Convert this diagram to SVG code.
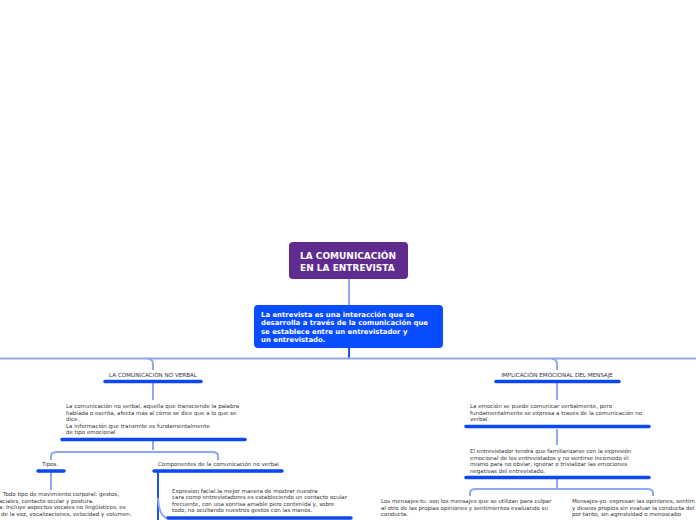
<svg xmlns="http://www.w3.org/2000/svg" width="696" height="520" viewBox="0 0 696 520">
<style>
.t{font-family:"DejaVu Sans",Verdana,sans-serif;font-size:5.5px;fill:#333}
.h{font-family:"DejaVu Sans",Verdana,sans-serif;font-size:5.6px;fill:#333;text-anchor:middle}
.w{font-family:"DejaVu Sans",Verdana,sans-serif;font-weight:bold;fill:#fff}
.c{fill:none;stroke:#8ea8f2;stroke-width:2}
.cd{fill:none;stroke:#1a52ee;stroke-width:2}
.u{stroke:#0a48f0;stroke-width:3.5;stroke-linecap:round}
</style>
<rect width="696" height="520" fill="#fff"/>
<g id="connectors">
<line class="c" x1="349" y1="279" x2="349" y2="305"/>
<line class="cd" x1="349" y1="348" x2="349" y2="358"/>
<line class="c" x1="0" y1="358.5" x2="696" y2="358.5"/>
<path class="c" d="M148,359 Q153,359 153,364 L153,370"/>
<path class="c" d="M552,359 Q557,359 557,364 L557,370"/>
<line class="c" x1="153" y1="383" x2="153" y2="400"/>
<line class="c" x1="153" y1="441" x2="153" y2="450"/>
<path class="c" d="M51,460 L51,456 Q51,452 57,452 L212,452 Q218,452 218,456 L218,460"/>
<line class="c" x1="51" y1="472" x2="51" y2="490"/>
<path class="cd" d="M158,472 L158,520"/>
<path class="c" d="M158,498 Q159,516 167,518"/>
<line class="c" x1="557" y1="383" x2="557" y2="400"/>
<line class="c" x1="557" y1="429" x2="557" y2="445"/>
<line class="c" x1="557" y1="479" x2="557" y2="489"/>
<path class="c" d="M470,496 L470,493 Q470,489 476,489 L647,489 Q653,489 653,493 L653,496"/>
</g>
<g id="root">
<rect x="289" y="242" width="119" height="37" rx="4" fill="#5f2b8f"/>
<text class="w" font-size="9" x="300" y="259">LA COMUNICACIÓN</text>
<text class="w" font-size="9" x="300" y="270.5">EN LA ENTREVISTA</text>
</g>
<g id="entrevista">
<rect x="254" y="305" width="189" height="43" rx="4" fill="#0a4cff"/>
<text class="w" font-size="6.9" x="261" y="317">La entrevista es una interacción que se</text>
<text class="w" font-size="6.9" x="261" y="325.3">desarrolla a través de la comunicación que</text>
<text class="w" font-size="6.9" x="261" y="333.6">se establece entre un entrevistador y</text>
<text class="w" font-size="6.9" x="261" y="342">un entrevistado.</text>
</g>
<g id="noverbal">
<text class="h" x="153" y="377">LA COMUNICACIÓN NO VERBAL</text>
<line class="u" x1="105" y1="381.5" x2="201" y2="381.5"/>
</g>
<g id="noverbal-def">
<text class="t" x="66" y="408">La comunicación no verbal, aquella que transciende la palabra</text>
<text class="t" x="66" y="414.5">hablada o escrita, afecta más al cómo se dice que a lo que se</text>
<text class="t" x="66" y="421">dice.</text>
<text class="t" x="66" y="427.5">La información que transmite es fundamentalmente</text>
<text class="t" x="66" y="434">de tipo emocional</text>
<line class="u" x1="62" y1="439.5" x2="245" y2="439.5"/>
</g>
<g id="tipos">
<text class="t" x="42" y="465.5">Tipos.</text>
<line class="u" x1="38" y1="471" x2="64" y2="471"/>
</g>
<g id="tipos-texto">
<text class="t" x="3" y="496">Todo tipo de movimiento corporal: gestos,</text>
<text class="t" x="-1" y="502.5">aciales, contacto ocular y postura.</text>
<text class="t" x="-1" y="509">a: Incluye aspectos vocales no lingüísticos, es</text>
<text class="t" x="1" y="515.5">de la voz, vocalizaciones, velocidad y volumen.</text>
</g>
<g id="componentes">
<text class="t" x="158" y="465.5">Componentes de la comunicación no verbal</text>
<line class="u" x1="154" y1="471" x2="282" y2="471"/>
</g>
<g id="expresion">
<text class="t" x="172" y="492.5">Expresion facial.la mejor manera de mostrar nuestra</text>
<text class="t" x="172" y="499">cara como entrevistadores es estableciendo un contacto ocular</text>
<text class="t" x="172" y="505.5">frecuente, con una sonrisa amable pero contenida y, sobre</text>
<text class="t" x="172" y="512">todo, no ocultando nuestros gestos con las manos.</text>
<line class="u" x1="168" y1="518" x2="351" y2="518"/>
</g>
<g id="implicacion">
<text class="h" x="557" y="377">IMPLICACIÓN EMOCIONAL DEL MENSAJE</text>
<line class="u" x1="496" y1="381.5" x2="619" y2="381.5"/>
</g>
<g id="emocion">
<text class="t" x="470" y="408">La emoción se puede comunicar verbalmente, pero</text>
<text class="t" x="470" y="414.5">fundamentalmente se expresa a través de la comunicación no</text>
<text class="t" x="470" y="421">verbal.</text>
<line class="u" x1="466" y1="426.5" x2="649" y2="426.5"/>
</g>
<g id="entrevistador">
<text class="t" x="470" y="453">El entrevistador tendrá que familiarizarse con la expresión</text>
<text class="t" x="470" y="459.5">emocional de los entrevistados y no sentirse incómodo él</text>
<text class="t" x="470" y="466">mismo para no obviar, ignorar o trivializar las emociones</text>
<text class="t" x="470" y="472.5">negativas del entrevistado.</text>
<line class="u" x1="466" y1="477.5" x2="649" y2="477.5"/>
</g>
<g id="mensajes-tu">
<text class="t" x="381" y="503">Los mensajes-tu. son los mensajes que se utilizan para culpar</text>
<text class="t" x="381" y="509.5">al otro de las propias opiniones y sentimientos evaluando su</text>
<text class="t" x="381" y="516">conducta.</text>
</g>
<g id="mensajes-yo">
<text class="t" x="572" y="503">Mensajes-yo. expresan las opiniones, sentim</text>
<text class="t" x="572" y="509.5">y deseos propios sin evaluar la conducta del</text>
<text class="t" x="572" y="516">por tanto, sin agresividad o menoscabo</text>
</g>
</svg>
